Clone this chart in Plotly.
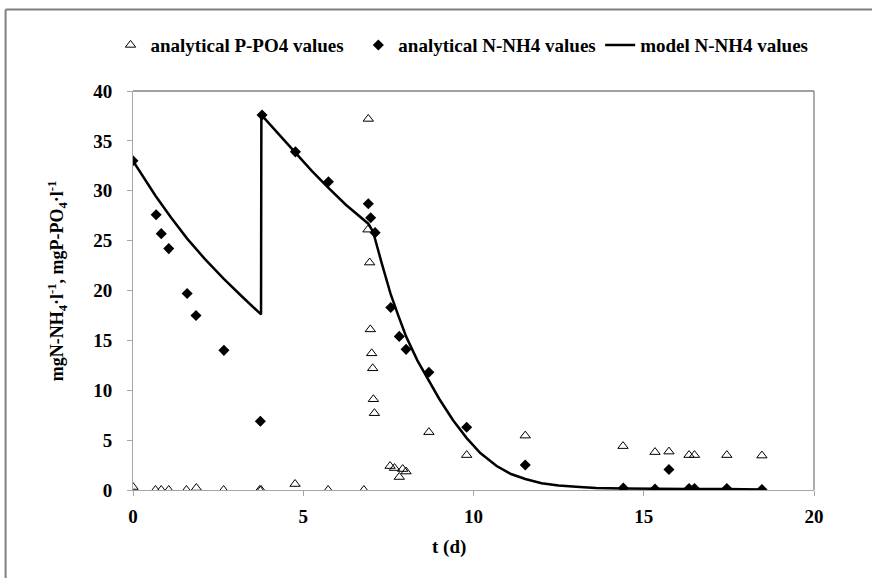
import plotly.graph_objects as go

# Analytical P-PO4 concentrations (mg/l) over time (days)
p_t = [0.0, 0.66, 0.83, 1.05, 1.57, 1.86, 2.66, 3.72, 3.76, 4.76, 5.73, 6.78,
       6.91, 6.90, 6.95, 6.97, 7.01, 7.04, 7.06, 7.09, 7.55, 7.68, 7.82, 7.92,
       8.02, 8.69, 9.80, 11.52, 14.39, 15.33, 15.74, 16.33, 16.49, 17.44, 18.47]
p_val = [0.3, 0.0, 0.0, 0.0, 0.0, 0.2, 0.0, 0.0, 0.0, 0.6, 0.0, 0.0,
         37.2, 26.1, 22.8, 16.1, 13.7, 12.2, 9.1, 7.7, 2.4, 2.2, 1.3, 2.1,
         1.85, 5.8, 3.5, 5.45, 4.4, 3.8, 3.85, 3.5, 3.5, 3.5, 3.45]

# Analytical N-NH4 concentrations (mg/l)
n_t = [0.0, 0.68, 0.83, 1.05, 1.59, 1.85, 2.67, 3.74, 3.79, 4.77, 5.74, 6.91,
       6.98, 7.11, 7.57, 7.82, 8.02, 8.69, 9.80, 11.52, 14.40, 15.33, 15.74,
       16.33, 16.49, 17.44, 18.47]
n_val = [33.0, 27.6, 25.7, 24.2, 19.7, 17.5, 14.0, 6.9, 37.6, 33.9, 30.9, 28.7,
         27.3, 25.8, 18.3, 15.4, 14.1, 11.8, 6.3, 2.5, 0.2, 0.1, 2.05,
         0.15, 0.15, 0.15, 0.05]

# Model N-NH4 curve (mg/l)
m_t = [0.0, 0.33, 0.66, 1.1, 1.59, 2.1, 2.66, 3.2, 3.76, 3.77, 4.25, 4.77, 5.25,
       5.74, 6.25, 6.91, 7.05, 7.3, 7.57, 7.8, 8.02, 8.35, 8.69, 9.0, 9.4,
       9.8, 10.2, 10.68, 11.1, 11.52, 12.0, 12.5, 13.12, 13.6, 14.4, 15.33,
       16.33, 17.44, 18.47]
m_val = [33.0, 31.2, 29.5, 27.4, 25.2, 23.2, 21.2, 19.4, 17.6, 37.6, 35.8, 33.8, 32.0,
         30.3, 28.6, 26.7, 25.9, 22.8, 19.6, 17.4, 15.4, 13.0, 10.9, 9.1, 7.0,
         5.2, 3.7, 2.4, 1.6, 1.1, 0.68, 0.45, 0.3, 0.2, 0.15, 0.1,
         0.1, 0.1, 0.05]

FONT = "Liberation Serif"

fig = go.Figure()
fig.add_trace(go.Scatter(
    x=p_t, y=p_val, mode="markers", name="<b>analytical P-PO4 values</b>",
    legend="legend",
    marker=dict(symbol="triangle-up-open", size=9, color="black",
                line=dict(width=1, color="black")),
))
fig.add_trace(go.Scatter(
    x=n_t, y=n_val, mode="markers", name="<b>analytical N-NH4 values</b>",
    legend="legend2",
    marker=dict(symbol="diamond", size=8.5, color="black"),
))
fig.add_trace(go.Scatter(
    x=m_t, y=m_val, mode="lines", name="<b>model N-NH4 values</b>",
    legend="legend3",
    line=dict(color="black", width=2.5),
))

# pixel -> paper helpers for the frame, legend and titles
L, R, T, B = 132.5, 814.0, 91.0, 490.5
def px(xp):
    return (xp - L) / (R - L)
def py(yp):
    return (B - yp) / (B - T)

shapes = [
    # plot-area border (top and right)
    dict(type="line", xref="paper", yref="paper", x0=0, x1=1, y0=1, y1=1,
         line=dict(color="#808080", width=1.3)),
    dict(type="line", xref="paper", yref="paper", x0=1, x1=1, y0=0, y1=1,
         line=dict(color="#808080", width=1.3)),
    # chart-area frame
    dict(type="line", xref="paper", yref="paper", x0=px(5), x1=px(880),
         y0=py(9.5), y1=py(9.5), line=dict(color="#7f7f7f", width=2)),
    dict(type="line", xref="paper", yref="paper", x0=px(5), x1=px(5),
         y0=py(9.5), y1=py(590), line=dict(color="#7f7f7f", width=2)),
]

annotations = [
    dict(text="<b>mgN-NH<sub>4</sub>·l<sup>-1</sup>, mgP-PO<sub>4</sub>·l<sup>-1</sup></b>",
         xref="paper", yref="paper", x=px(57), y=py(281), textangle=-90,
         showarrow=False, font=dict(family=FONT, size=18, color="black"),
         xanchor="center", yanchor="middle"),
    dict(text="<b>t (d)</b>", xref="paper", yref="paper", x=px(449), y=py(548),
         showarrow=False, font=dict(family=FONT, size=19, color="black"),
         xanchor="center", yanchor="middle"),
]

def legend_at(x_px):
    return dict(orientation="h", x=px(x_px), y=py(45), xanchor="left",
                yanchor="middle", font=dict(family=FONT, size=19, color="black"),
                itemwidth=30, bgcolor="rgba(0,0,0,0)")

fig.update_layout(
    width=872, height=578,
    margin=dict(l=L, r=872 - R, t=T, b=578 - B, pad=0),
    paper_bgcolor="white", plot_bgcolor="white",
    font=dict(family=FONT, color="black"),
    showlegend=True,
    legend=legend_at(110),
    legend2=legend_at(358),
    legend3=legend_at(600),
    xaxis=dict(range=[0, 20], tick0=0, dtick=5, showgrid=False, zeroline=False,
               showline=True, linecolor="#a6a6a6", linewidth=1,
               ticks="outside", ticklen=5, tickcolor="#a6a6a6",
               ticklabelstandoff=4,
               tickfont=dict(family=FONT, size=19, color="black"),
               tickprefix="<b>", ticksuffix="</b>"),
    yaxis=dict(range=[0, 40], tick0=0, dtick=5, showgrid=False, zeroline=False,
               showline=True, linecolor="#a6a6a6", linewidth=1,
               ticks="outside", ticklen=5, tickcolor="#a6a6a6",
               ticklabelstandoff=11,
               tickfont=dict(family=FONT, size=19, color="black"),
               tickprefix="<b>", ticksuffix="</b>"),
    shapes=shapes,
    annotations=annotations,
)

fig.write_html("out.html")
